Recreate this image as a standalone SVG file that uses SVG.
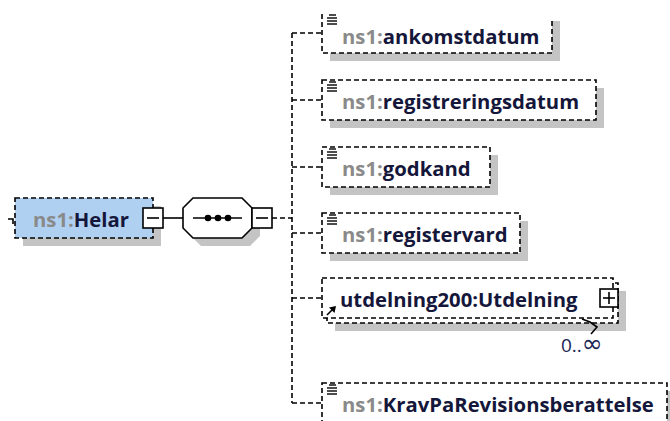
<svg xmlns="http://www.w3.org/2000/svg" width="670" height="421" viewBox="0 0 670 421">
<style>
.sh{fill:#c4c4c4}
.bx{fill:#fff;stroke:#000;stroke-width:1.6;stroke-dasharray:5 3}
.ed{fill:none;stroke:#000;stroke-width:1.6;stroke-dasharray:5 3}
.sol{fill:#fff;stroke:#000;stroke-width:1.6}
.ln{fill:none;stroke:#000;stroke-width:1.6}
.ic{stroke:#000;stroke-width:1.4}
.lbl{font-family:"Open Sans","Liberation Sans",sans-serif;font-weight:bold;font-size:20.3px;fill:#14163a}
.pre{fill:#8a8a8a}
.occ{font-family:"Open Sans","Liberation Sans",sans-serif;font-size:19px;fill:#1a2456}
</style>
<defs>
<g id="icon">
<line class="ic" x1="329" y1="0" x2="336" y2="0"/>
<line class="ic" x1="327" y1="3" x2="337" y2="3"/>
<line class="ic" x1="327" y1="6" x2="337" y2="6"/>
<line class="ic" x1="327" y1="9" x2="337" y2="9"/>
</g>
</defs>

<g id="connectors">
<line class="ln" x1="163" y1="218" x2="183" y2="218"/>
<line class="ed" x1="272" y1="218" x2="292" y2="218"/>
<line class="ed" x1="292" y1="33" x2="292" y2="403"/>
<line class="ed" x1="292" y1="33" x2="322" y2="33"/>
<line class="ed" x1="292" y1="100" x2="322" y2="100"/>
<line class="ed" x1="292" y1="167" x2="322" y2="167"/>
<line class="ed" x1="292" y1="233" x2="322" y2="233"/>
<line class="ed" x1="292" y1="298" x2="322" y2="298"/>
<line class="ed" x1="292" y1="403" x2="322" y2="403"/>
<polyline class="ln" points="8,219 13,219 13,224"/>
</g>

<g id="helar">
<rect class="sh" x="23" y="206" width="138" height="40"/>
<rect x="15" y="198" width="138" height="40" fill="#b0d0f2" stroke="#000" stroke-width="1.6" stroke-dasharray="5 3"/>
<text class="lbl" x="33" y="227"><tspan class="pre">ns1:</tspan>Helar</text>
<rect class="sol" x="143" y="208" width="20" height="20"/>
<line class="ln" x1="147" y1="218" x2="159" y2="218"/>
</g>

<g id="sequence">
<polygon class="sh" points="201,206 250,206 260,216 260,236 250,246 201,246 191,236 191,216"/>
<polygon class="sol" points="193,198 242,198 252,208 252,228 242,238 193,238 183,228 183,208"/>
<line class="ln" x1="193" y1="218" x2="242" y2="218"/>
<circle cx="208" cy="218" r="3.3"/>
<circle cx="218" cy="218" r="3.3"/>
<circle cx="228" cy="218" r="3.3"/>
<rect class="sol" x="252" y="208" width="20" height="20"/>
<line class="ln" x1="256" y1="218" x2="268" y2="218"/>
</g>

<g id="ankomstdatum">
<rect class="sh" x="330" y="21" width="230" height="40"/>
<rect x="322" y="13" width="230" height="40" fill="#fff"/>
<path class="ed" d="M322,14 V53 H552 V20"/>
<use href="#icon" y="15"/>
<text class="lbl" x="342" y="44"><tspan class="pre">ns1:</tspan>ankomstdatum</text>
</g>

<g id="registreringsdatum">
<rect class="sh" x="330" y="88" width="274" height="40"/>
<rect class="bx" x="322" y="80" width="274" height="40"/>
<use href="#icon" y="82"/>
<text class="lbl" x="342" y="109"><tspan class="pre">ns1:</tspan>registreringsdatum</text>
</g>

<g id="godkand">
<rect class="sh" x="330" y="155" width="168" height="40"/>
<rect class="bx" x="322" y="147" width="168" height="40"/>
<use href="#icon" y="149"/>
<text class="lbl" x="342" y="176"><tspan class="pre">ns1:</tspan>godkand</text>
</g>

<g id="registervard">
<rect class="sh" x="330" y="221" width="198" height="40"/>
<rect class="bx" x="322" y="213" width="198" height="40"/>
<use href="#icon" y="215"/>
<text class="lbl" x="342" y="242"><tspan class="pre">ns1:</tspan>registervard</text>
</g>

<g id="utdelning">
<rect class="sh" x="335" y="291" width="291" height="40"/>
<rect class="bx" x="327" y="283" width="291" height="40"/>
<rect class="bx" x="322" y="278" width="291" height="40"/>
<line class="ln" x1="327" y1="315" x2="333" y2="309"/>
<polygon points="336,306 329,307.5 334.5,313"/>
<text class="lbl" x="340" y="307">utdelning200:Utdelning</text>
<rect class="sol" x="600" y="289" width="18" height="18"/>
<line class="ln" x1="603" y1="298" x2="615" y2="298"/>
<line class="ln" x1="609" y1="292" x2="609" y2="304"/>
<polyline class="ln" points="582,319 590,322 597,327 591,334" stroke-width="1.2"/>
<text class="occ" x="561" y="352">0..<tspan font-family="DejaVu Sans" font-size="25">∞</tspan></text>
</g>

<g id="KravPaRevisionsberattelse">
<rect class="sh" x="330" y="391" width="345" height="40"/>
<rect class="bx" x="322" y="383" width="345" height="40"/>
<use href="#icon" y="385"/>
<text class="lbl" x="342" y="412"><tspan class="pre">ns1:</tspan>KravPaRevisionsberattelse</text>
</g>
</svg>
